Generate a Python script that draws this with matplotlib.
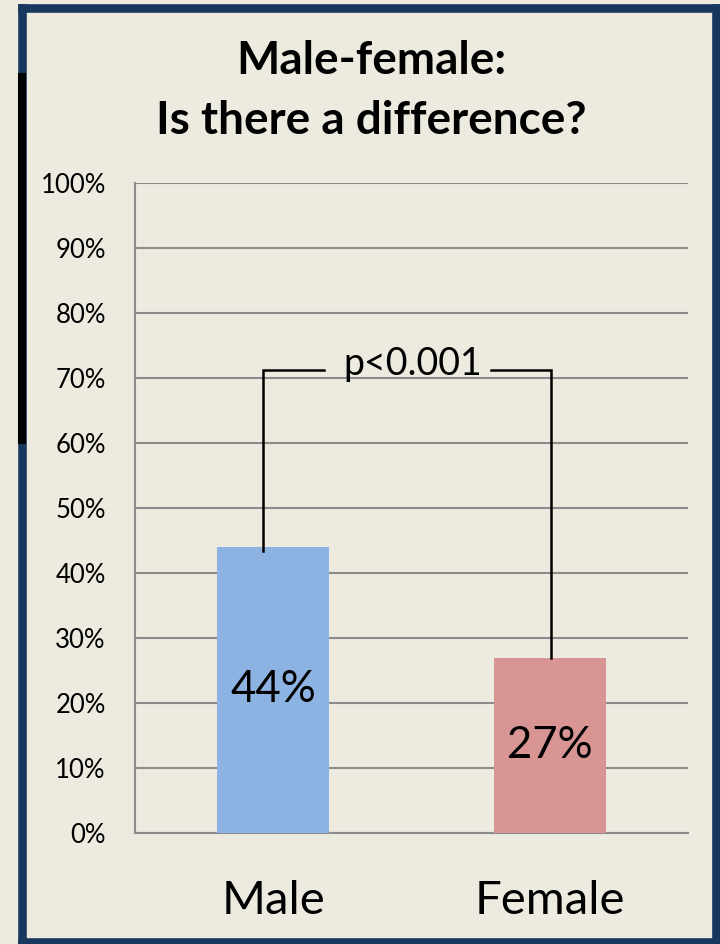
import matplotlib
matplotlib.use("Agg")
import matplotlib.pyplot as plt
from matplotlib.lines import Line2D

# Data
categories = ["Male", "Female"]
percentages = [44, 27]
bar_colors = ["#8DB3E2", "#D99594"]
y_ticks = list(range(0, 101, 10))
y_tick_labels = [f"{t}%" for t in y_ticks]
title_text = "Male-female:\nIs there a difference?"
p_label = "p<0.001"
bracket_level = 71.2

BG = "#EDEBE0"
FONT = ["Lato", "DejaVu Sans"]
plt.rcParams["font.family"] = FONT

W, H = 720, 944
fig = plt.figure(figsize=(W / 100, H / 100), dpi=100, facecolor=BG)

ax = fig.add_axes([135 / W, 1 - 833 / H, 553 / W, 650 / H])
ax.set_facecolor(BG)

x = list(range(len(categories)))
ax.bar(x, percentages, width=0.405, color=bar_colors, zorder=3)

ax.set_xlim(-0.5, 1.5)
ax.set_ylim(0, 100)
ax.set_yticks(y_ticks)
ax.set_yticklabels(y_tick_labels, fontsize=18.5)
ax.set_xticks(x)
ax.set_xticklabels(categories, fontsize=34)
ax.tick_params(axis="y", length=0, pad=21)
ax.tick_params(axis="x", length=0, pad=34)
ax.yaxis.grid(True, color="#8C8C8C", linewidth=1.5, zorder=1)
for side in ["top", "right"]:
    ax.spines[side].set_visible(False)
for side in ["left", "bottom"]:
    ax.spines[side].set_color("#8C8C8C")
    ax.spines[side].set_linewidth(1.5)

# Value labels centred inside each bar
for xi, v in zip(x, percentages):
    ax.text(xi, v / 2, f"{v}%", ha="center", va="center", fontsize=31.5, zorder=5)

# Significance bracket
lw = 1.8
ax.plot([-0.036, -0.036, 0.184], [percentages[0] - 0.6, bracket_level, bracket_level],
        color="black", lw=lw, zorder=4, solid_joinstyle="miter")
ax.plot([0.788, 1.005, 1.005], [bracket_level, bracket_level, percentages[1]],
        color="black", lw=lw, zorder=4, solid_joinstyle="miter")
ax.text(0.506, bracket_level + 1.0, p_label, ha="center", va="center", fontsize=27, zorder=5)

# Title
fig.text(371 / W, 1 - 91 / H, title_text, ha="center", va="center",
         fontsize=33, fontweight="bold", linespacing=1.5)

# Frame around the chart, drawn side by side in pixel coordinates
def px_line(xs, ys, color, width):
    fig.add_artist(Line2D([v / W for v in xs], [1 - v / H for v in ys],
                          transform=fig.transFigure, color=color,
                          linewidth=width, solid_capstyle="projecting", zorder=10))

frame = "#17375E"
fw = 6.2
px_line([22, 716], [7.5, 7.5], frame, fw)        # top
px_line([22, 22], [7.5, 940], frame, fw)         # left
px_line([716, 716], [7.5, 940], frame, fw)       # right
px_line([22, 716], [942, 942], frame, fw)        # bottom
px_line([22, 22], [77, 440], "black", 5.8)       # dark overlay on the left edge

fig.savefig("out.png", dpi=100, facecolor=BG)
